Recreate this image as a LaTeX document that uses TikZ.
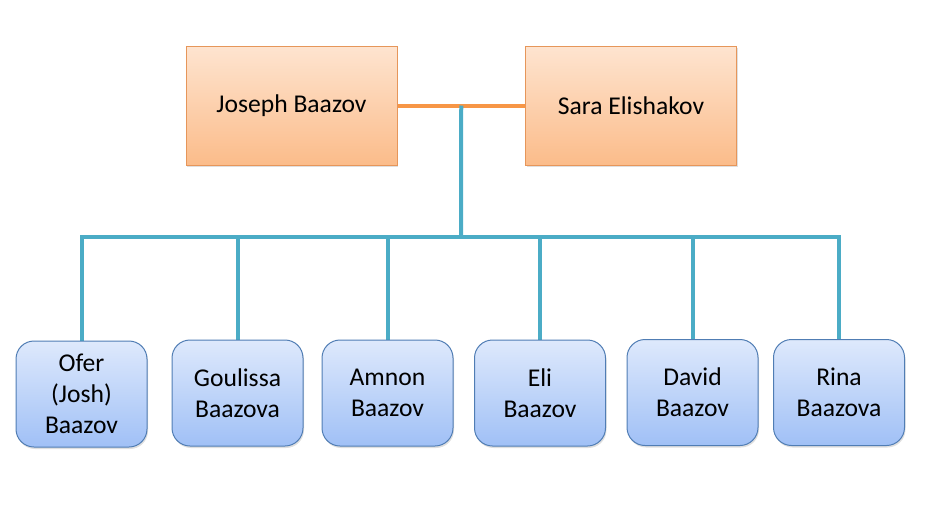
\documentclass[tikz,border=0pt]{standalone}
\usepackage{fontspec}
\setmainfont{Carlito}
\usepackage{tikz}
\usetikzlibrary{shapes, backgrounds, positioning, shadows, calc}
\definecolor{parentfill}{RGB}{251,188,138}
\definecolor{parenttop}{RGB}{254,228,208}
\definecolor{parentline}{RGB}{230,150,90}
\definecolor{childfill}{RGB}{160,192,246}
\definecolor{childtop}{RGB}{222,233,252}
\definecolor{childline}{RGB}{80,125,180}
\definecolor{tealline}{RGB}{75,172,198}
\definecolor{orangeline}{RGB}{247,150,70}

\begin{document}
\begin{tikzpicture}[x=1pt,y=-1pt,
  parent/.style={rectangle, draw=parentline, line width=1pt, top color=parenttop, bottom color=parentfill,
    minimum width=211pt, minimum height=119pt, inner sep=0pt,
    drop shadow={shadow xshift=1pt, shadow yshift=-2pt, opacity=0.25},
    font=\fontsize{25.6}{30.7}\selectfont},
  child/.style={rectangle, rounded corners=18pt, draw=childline, line width=1pt, top color=childtop, bottom color=childfill,
    minimum width=131pt, minimum height=106pt, inner sep=0pt, align=center,
    drop shadow={shadow xshift=1pt, shadow yshift=-2pt, opacity=0.25},
    font=\fontsize{25.6}{30.7}\selectfont},
  couple/.style={draw=orangeline, line width=4pt},
  branch/.style={draw=tealline, line width=4pt}]
\useasboundingbox (0,0) rectangle (928,506);
% The parents
\node[parent] (joseph) at (291.5,105.5) {Joseph Baazov};
\node[parent] (sara) at (631,105.5) {Sara Elishakov};
% The children
\node[child] (ofer) at (81.5,394) {Ofer\\(Josh)\\Baazov};
\node[child] (goulissa) at (237.5,393) {Goulissa\\Baazova};
\node[child] (amnon) at (387.5,393) {Amnon\\Baazov};
\node[child] (eli) at (540,393) {Eli\\Baazov};
\node[child] (david) at (692.5,392.5) {David\\Baazov};
\node[child] (rina) at (839,392.5) {Rina\\Baazova};
% The lines
\coordinate (mid) at ($ (joseph.east)!0.5!(sara.west) $);
\coordinate (bar) at (461,237);
\begin{scope}[on background layer]
\draw[couple] (joseph.east) -- (sara.west);
\draw[branch] (mid) -- (bar);
\draw[branch, line cap=rect] (ofer.north |- bar) -- (rina.north |- bar);
\foreach \kid in {ofer, goulissa, amnon, eli, david, rina}
  \draw[branch] (\kid.north |- bar) -- (\kid.north);
\end{scope}
\end{tikzpicture}
\end{document}
